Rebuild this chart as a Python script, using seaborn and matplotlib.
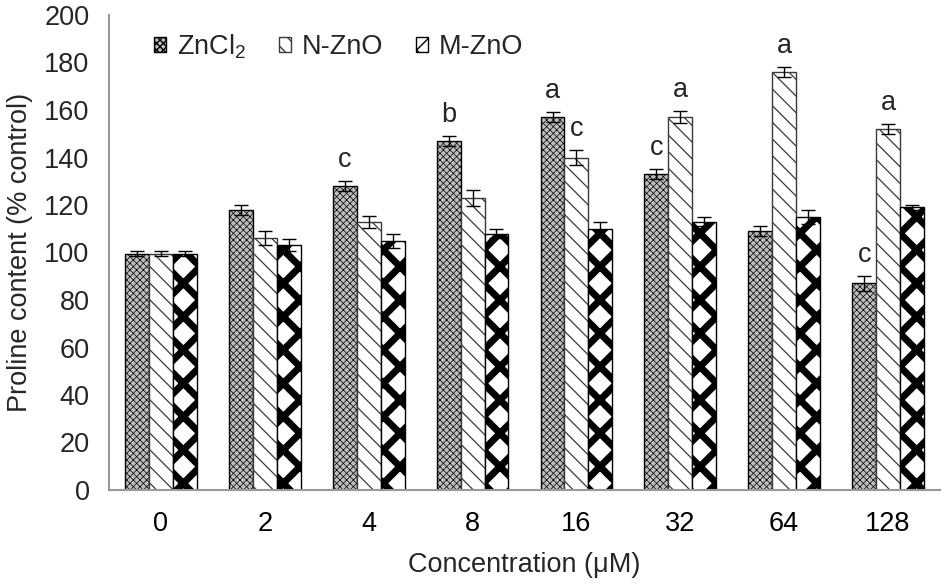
import matplotlib
matplotlib.use("Agg")
import matplotlib.pyplot as plt
import matplotlib.patches as mpatches
from matplotlib.container import BarContainer
import seaborn as sns
import pandas as pd
import numpy as np

concentrations = ["0", "2", "4", "8", "16", "32", "64", "128"]
treatments = ["ZnCl2", "N-ZnO", "M-ZnO"]
legend_labels = ["ZnCl$_2$", "N-ZnO", "M-ZnO"]
zncl2 = [99.5, 118, 128, 147, 157, 133, 109, 87]
nzno = [99.5, 106, 113, 123, 140, 157, 176, 152]
mzno = [99.5, 103, 105, 108, 110, 113, 115, 119]
zncl2_err = [1, 2, 2, 2, 2, 2, 2, 3]
nzno_err = [1, 3, 2.5, 3.5, 3, 2.5, 2, 2]
mzno_err = [1, 2.5, 3, 2, 3, 2, 3, 1]
zncl2_letters = ["", "", "c", "b", "a", "c", "", "c"]
nzno_letters = ["", "", "", "", "c", "a", "a", "a"]
mzno_letters = ["", "", "", "", "", "", "", ""]

rows = []
for vals, t in zip([zncl2, nzno, mzno], treatments):
    for c, v in zip(concentrations, vals):
        rows.append({"Concentration": c, "Treatment": t, "Value": v})
df = pd.DataFrame(rows)

sns.set_theme(style="white")
plt.rcParams["font.family"] = ["Liberation Sans", "DejaVu Sans"]
plt.rcParams["mathtext.fontset"] = "custom"
plt.rcParams["mathtext.rm"] = "Liberation Sans"
FS = 19.5

fig = plt.figure(figsize=(9.45, 5.85), dpi=100)
ax = fig.add_axes([109/945, 1-490/585, (940-109)/945, (490-15)/585])

sns.barplot(data=df, x="Concentration", y="Value", hue="Treatment",
            order=concentrations, hue_order=treatments, errorbar=None,
            width=0.69, ax=ax, legend=False)

styles = [
    dict(face="#bdbdbd", edge="black", hatch="xxxxx", hlw=0.5),
    dict(face="white", edge="#3a3a3a", hatch="\\\\", hlw=0.9),
    dict(face="white", edge="black", hatch="x", hlw=5.0),
]
errs = [zncl2_err, nzno_err, mzno_err]
vals_all = [zncl2, nzno, mzno]
letters = [zncl2_letters, nzno_letters, mzno_letters]

bar_containers = [c for c in ax.containers if isinstance(c, BarContainer)]
for ci, cont in enumerate(bar_containers):
    st = styles[ci]
    xs = []
    for p in cont.patches:
        p.set_facecolor(st["face"])
        p.set_edgecolor(st["edge"])
        p.set_hatch(st["hatch"])
        p.set_linewidth(1.0)
        if hasattr(p, "set_hatch_linewidth"):
            p.set_hatch_linewidth(st["hlw"])
        xs.append(p.get_x() + p.get_width() / 2)
    ax.errorbar(xs, vals_all[ci], yerr=errs[ci], fmt="none", ecolor="black",
                elinewidth=1.0, capsize=5, capthick=1.0, zorder=5)
    for x, v, e, l in zip(xs, vals_all[ci], errs[ci], letters[ci]):
        if l:
            ax.text(x, v + e + 6, l, ha="center", va="baseline", fontsize=FS)

ax.set_ylim(0, 200)
ax.set_xlim(-0.5, len(concentrations) - 0.5)
ax.set_yticks(np.arange(0, 201, 20))
ax.set_xticks(np.arange(-0.5, len(concentrations), 1.0), minor=True)
ax.tick_params(axis="x", which="major", length=0, labelsize=FS, pad=15, colors="black")
ax.tick_params(axis="x", which="minor", length=7, width=1.2, color="#999999", direction="out")
ax.tick_params(axis="y", length=6, width=1.2, color="#999999", labelsize=FS, direction="out", pad=8)
for s in ["top", "right"]:
    ax.spines[s].set_visible(False)
for s in ["left", "bottom"]:
    ax.spines[s].set_color("#999999")
    ax.spines[s].set_linewidth(1.5)

ax.set_xlabel("Concentration (\u03bcM)", fontsize=FS, labelpad=11)
ax.set_ylabel("Proline content (% control)", fontsize=FS, labelpad=8)

handles = []
for st, lab in zip(styles, legend_labels):
    hp = mpatches.Patch(facecolor=st["face"], edgecolor=st["edge"], hatch=st["hatch"], label=lab)
    handles.append(hp)
ax.legend(handles=handles, loc="upper left", bbox_to_anchor=(0.025, 1.015), ncol=3,
          frameon=False, fontsize=FS, handlelength=0.45, handleheight=0.45,
          columnspacing=1.2, handletextpad=0.4)

fig.savefig("out.png", dpi=100)
